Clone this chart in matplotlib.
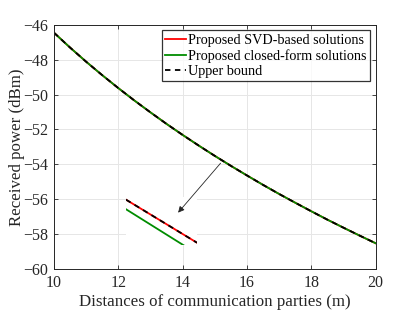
import matplotlib
matplotlib.use("Agg")
import matplotlib.pyplot as plt

plt.rcParams['font.family'] = ['Liberation Serif', 'DejaVu Serif']
plt.rcParams['mathtext.fontset'] = 'stix'

# Main curves
distance = [10, 10.5, 11, 11.5, 12, 12.5, 13, 13.5, 14, 14.5, 15, 15.5, 16,
            16.5, 17, 17.5, 18, 18.5, 19, 19.5, 20]
power_svd = [-46.46, -47.31, -48.12, -48.89, -49.63, -50.34, -51.02, -51.68,
             -52.31, -52.92, -53.51, -54.08, -54.63, -55.17, -55.69, -56.19,
             -56.68, -57.16, -57.62, -58.07, -58.51]
power_cf = list(power_svd)
power_ub = list(power_svd)

# Zoomed inset data (around d = 15.2 m)
zoom_d = [15.20, 15.24]
zoom_svd = [-53.8922, -53.9281]
zoom_cf = [-53.9002, -53.9372]
zoom_ub = [-53.8922, -53.9281]
zoom_xlim = (15.20, 15.24)
zoom_ylim = (-53.93, -53.89)

xticks = [10, 12, 14, 16, 18, 20]
yticks = [-60, -58, -56, -54, -52, -50, -48, -46]

red = '#ff0000'
green = '#008c00'
dark = '#262626'

fig = plt.figure(figsize=(4.15, 3.12), dpi=100)
ax = fig.add_axes([0.130, 0.137, 0.775, 0.784])

ax.plot(distance, power_svd, color=red, lw=1.3, label='Proposed SVD-based solutions')
ax.plot(distance, power_cf, color=green, lw=1.3, label='Proposed closed-form solutions')
ax.plot(distance, power_ub, color='black', lw=1.3, ls=(0, (3, 2.5)), label='Upper bound')

ax.set_xlim(10, 20)
ax.set_ylim(-60, -46)
ax.set_xticks(xticks)
ax.set_yticks(yticks)
ax.grid(True, color='#e6e6e6', lw=0.7)
ax.set_axisbelow(True)
ax.tick_params(direction='in', top=True, right=True, length=3, width=0.6,
               labelsize=11.5, colors=dark, pad=4)
for s in ax.spines.values():
    s.set_color(dark)
    s.set_linewidth(0.7)
ax.set_xlabel('Distances of communication parties (m)', fontsize=12.2, color=dark, labelpad=2.5)
ax.set_ylabel('Received power (dBm)', fontsize=12.2, color=dark, labelpad=-1)

leg = ax.legend(loc='upper right', fontsize=10.2, frameon=True, fancybox=False,
                edgecolor='black', handlelength=1.5, handletextpad=0.1,
                borderpad=0.25, labelspacing=0.15, borderaxespad=0.4)
leg.get_frame().set_linewidth(0.9)

ins = fig.add_axes([126/415, 1 - 245/312, 71/415, 48/312])
ins.plot(zoom_d, zoom_svd, color=red, lw=1.3)
ins.plot(zoom_d, zoom_cf, color=green, lw=1.3)
ins.plot(zoom_d, zoom_ub, color='black', lw=1.3, ls=(0, (3, 2.5)))
ins.set_xlim(*zoom_xlim)
ins.set_ylim(*zoom_ylim)
ins.set_xticks([])
ins.set_yticks([])
for s in ins.spines.values():
    s.set_visible(False)

arrow = ins.annotate('', xy=(13.86, -56.76), xytext=(15.18, -53.93),
                     xycoords=ax.transData, textcoords=ax.transData,
                     annotation_clip=False,
                     arrowprops=dict(arrowstyle='-|>', color=dark, lw=0.6,
                                     mutation_scale=9, shrinkA=0, shrinkB=0))
arrow.set_clip_on(False)

fig.savefig('out.png', dpi=100)
